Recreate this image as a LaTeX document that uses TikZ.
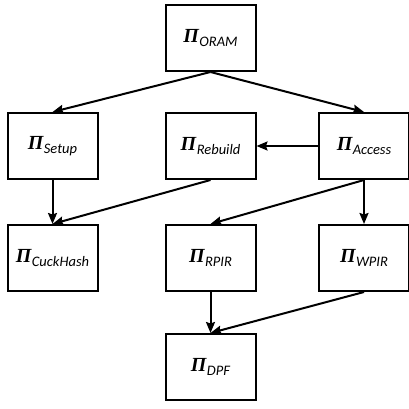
\documentclass[tikz,border=0pt]{standalone}
\usepackage{fontspec}
\setmainfont{Liberation Serif}
\newfontfamily\subfont{Carlito}
\usetikzlibrary{arrows.meta}
\newcommand{\PiSub}[1]{{\fontsize{20}{20}\selectfont\bfseries\itshape Π}\kern0.5pt\raisebox{-4pt}{\subfont\itshape\fontsize{14.5}{14.5}\selectfont #1}}
\tikzset{
  box/.style={draw, line width=2pt, minimum width=90pt, minimum height=66pt, inner sep=0pt},
  conn/.style={line width=2pt, -{Stealth[length=11pt,width=9pt,inset=1.5pt]}}
}
\begin{document}
\begin{tikzpicture}[x=1pt,y=-1pt]
\useasboundingbox (0,0) rectangle (409,409);
\node[box] (oram) at (210.5,38) {\PiSub{ORAM}};
\node[box] (setup) at (52.5,146) {\PiSub{Setup}};
\node[box] (rebuild) at (210.5,146) {\PiSub{Rebuild}};
\node[box] (access) at (364,146) {\PiSub{Access}};
\node[box] (cuck) at (52.5,258) {\PiSub{CuckHash}};
\node[box] (rpir) at (210.5,258) {\PiSub{RPIR}};
\node[box] (wpir) at (364,258) {\PiSub{WPIR}};
\node[box] (dpf) at (210.5,367) {\PiSub{DPF}};
\draw[conn] (oram.south) -- (setup.north);
\draw[conn] (oram.south) -- (access.north);
\draw[conn] (access.west) -- (rebuild.east);
\draw[conn] (setup.south) -- (cuck.north);
\draw[conn] (rebuild.south) -- (cuck.north);
\draw[conn] (access.south) -- (rpir.north);
\draw[conn] (access.south) -- (wpir.north);
\draw[conn] (rpir.south) -- (dpf.north);
\draw[conn] (wpir.south) -- (dpf.north);
\end{tikzpicture}
\end{document}
